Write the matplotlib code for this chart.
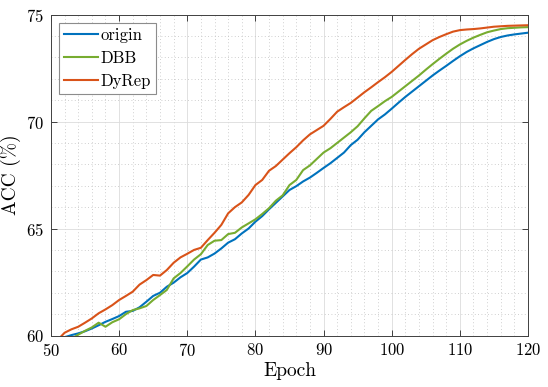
import matplotlib
matplotlib.use("Agg")
import matplotlib.pyplot as plt
from matplotlib.ticker import MultipleLocator

plt.rcParams["font.family"] = ["cmr10", "DejaVu Serif"]
plt.rcParams["mathtext.fontset"] = "cm"
plt.rcParams["axes.formatter.use_mathtext"] = True

# origin, epochs 52..120
origin_epochs = list(range(52, 121))
origin_acc = [59.92, 60.02, 60.10, 60.20, 60.33, 60.48, 60.64, 60.77, 60.91, 61.11,
              61.15, 61.32, 61.58, 61.85, 62.00, 62.28, 62.47, 62.72, 62.92, 63.22,
              63.55, 63.65, 63.83, 64.07, 64.34, 64.50, 64.77, 65.00, 65.32, 65.58,
              65.90, 66.20, 66.50, 66.80, 66.98, 67.20, 67.38, 67.60, 67.83, 68.05,
              68.30, 68.55, 68.90, 69.15, 69.50, 69.80, 70.10, 70.33, 70.60, 70.88,
              71.15, 71.40, 71.65, 71.90, 72.15, 72.38, 72.60, 72.83, 73.05, 73.25,
              73.42, 73.57, 73.72, 73.85, 73.95, 74.02, 74.07, 74.11, 74.15]

# DBB, epochs 53..120
dbb_epochs = list(range(53, 121))
dbb_acc = [59.85, 60.04, 60.22, 60.38, 60.60, 60.41, 60.62, 60.76, 61.00, 61.19,
           61.27, 61.38, 61.66, 61.89, 62.13, 62.67, 62.92, 63.23, 63.55, 63.80,
           64.23, 64.43, 64.46, 64.74, 64.80, 65.05, 65.24, 65.43, 65.68, 65.95,
           66.30, 66.55, 67.03, 67.27, 67.73, 67.95, 68.25, 68.55, 68.75, 69.00,
           69.25, 69.50, 69.78, 70.15, 70.50, 70.72, 70.95, 71.15, 71.40, 71.65,
           71.90, 72.15, 72.42, 72.68, 72.93, 73.17, 73.40, 73.60, 73.77, 73.92,
           74.05, 74.17, 74.25, 74.32, 74.36, 74.38, 74.40, 74.41]

# DyRep, epochs 51..120
dyrep_epochs = list(range(51, 121))
dyrep_acc = [59.80, 60.13, 60.29, 60.41, 60.60, 60.80, 61.04, 61.22, 61.42, 61.66,
             61.85, 62.05, 62.38, 62.59, 62.83, 62.80, 63.06, 63.40, 63.65, 63.82,
             64.00, 64.10, 64.46, 64.80, 65.17, 65.71, 66.00, 66.22, 66.57, 67.03,
             67.27, 67.70, 67.92, 68.22, 68.52, 68.80, 69.12, 69.40, 69.60, 69.80,
             70.12, 70.46, 70.67, 70.87, 71.12, 71.37, 71.60, 71.84, 72.07, 72.32,
             72.60, 72.88, 73.15, 73.40, 73.60, 73.80, 73.95, 74.08, 74.20, 74.27,
             74.30, 74.32, 74.35, 74.39, 74.43, 74.45, 74.47, 74.48, 74.49, 74.50]

fig = plt.figure(figsize=(5.48, 3.87), dpi=100)
ax = fig.add_axes([0.093, 0.133, 0.8705, 0.8295])

ax.plot(origin_epochs, origin_acc, color="#0072BD", lw=1.5, label="origin")
ax.plot(dbb_epochs, dbb_acc, color="#77AC30", lw=1.5, label="DBB")
ax.plot(dyrep_epochs, dyrep_acc, color="#D95319", lw=1.5, label="DyRep")

ax.set_xlim(50, 120)
ax.set_ylim(60, 75)
ax.xaxis.set_major_locator(MultipleLocator(10))
ax.yaxis.set_major_locator(MultipleLocator(5))
ax.xaxis.set_minor_locator(MultipleLocator(2))
ax.yaxis.set_minor_locator(MultipleLocator(1))

# matlab-like grid
ax.grid(True, which="major", color="#dcdcdc", lw=0.6)
ax.grid(True, which="minor", color="#c0c0c0", lw=0.6, linestyle=(0, (1, 3)))
ax.set_axisbelow(True)

ax.tick_params(which="major", direction="in", length=4, width=0.6, top=True, right=True,
               labelsize=12, color="#262626", pad=5)
ax.tick_params(which="minor", length=0)
for s in ax.spines.values():
    s.set_color("#404040")
    s.set_linewidth(0.7)

ax.set_xlabel("Epoch", fontsize=14, labelpad=2)
ax.set_ylabel("ACC (%)", fontsize=14, labelpad=4)

leg = ax.legend(loc="upper left", fontsize=12, fancybox=False, framealpha=1,
                edgecolor="#8c8c8c", borderaxespad=0.5, handlelength=2.0,
                borderpad=0.3, labelspacing=0.45, handletextpad=0.2)
leg.get_frame().set_linewidth(0.8)

fig.savefig("out.png", dpi=100)
